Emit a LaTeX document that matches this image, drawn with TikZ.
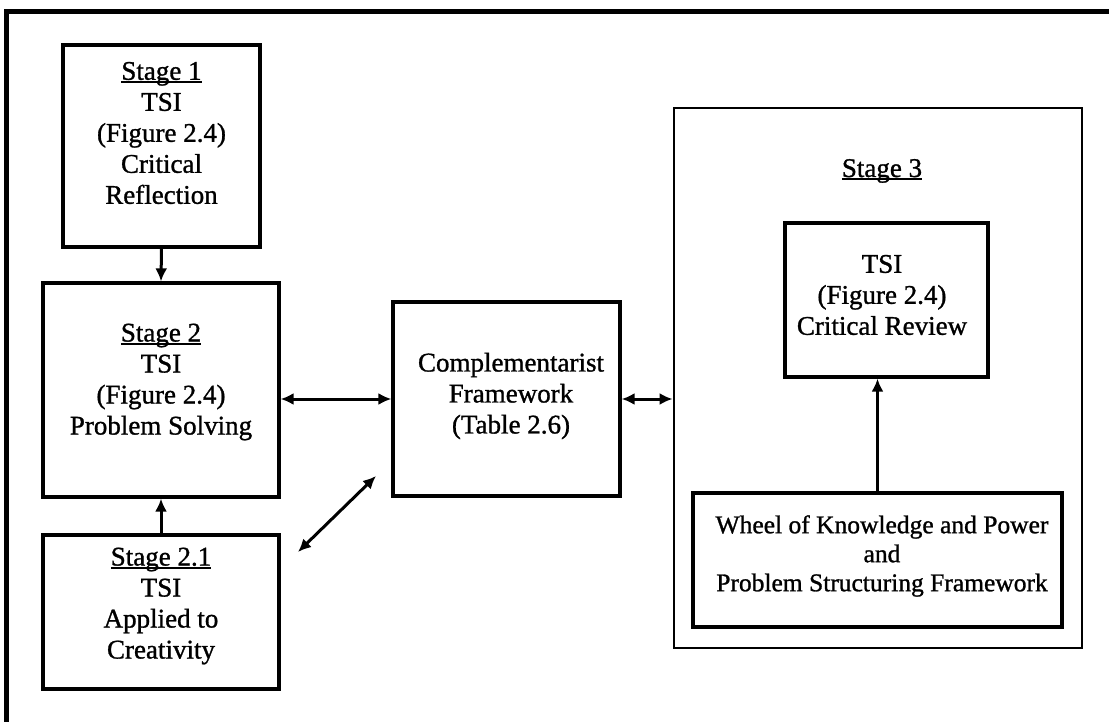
\documentclass[tikz,border=0pt]{standalone}
\usepackage{fontspec}
\setmainfont{Liberation Serif}[FakeBold=1.1]
\usetikzlibrary{arrows.meta}
% underlined stage heading, rule set close under the baseline
\newcommand\stagehead[1]{\setbox0\hbox{#1}\rlap{\rule[-3pt]{\wd0}{1.8pt}}\box0}
\begin{document}
\begin{tikzpicture}[x=1pt,y=-1pt,
  box/.style={draw,line width=3.2pt,inner sep=0pt},
  txt/.style={align=center,inner sep=0pt,font=\fontsize{27}{31}\selectfont},
  tip/.tip={Latex[length=13pt,width=12pt]},
  arr/.style={line width=3pt,-tip},
  both/.style={line width=3pt,tip-tip}]
\useasboundingbox (0,0) rectangle (1109,722);

% page frame (left and top rules)
\draw[line width=5pt] (6,722) -- (6,12) -- (1109,12);

% left column
\node[box,minimum width=197pt,minimum height=202pt] (s1) at (161.5,146) {};
\node[txt] (s1t) at (161.5,133) {\stagehead{Stage 1}\\TSI\\(Figure 2.4)\\Critical\\Reflection};

\node[box,minimum width=236pt,minimum height=214pt] (s2) at (161,390) {};
\node[txt] (s2t) at (161,382) {\stagehead{Stage 2}\\TSI\\(Figure 2.4)\\Problem Solving};

\node[box,minimum width=236pt,minimum height=154pt] (s21) at (161,612) {};
\node[txt] (s21t) at (161,606) {\stagehead{Stage 2.1}\\TSI\\Applied to\\Creativity};

% middle
\node[box,minimum width=227pt,minimum height=194pt] (comp) at (506.5,399) {};
\node[txt] (compt) at (511,396) {Complementarist\\Framework\\(Table 2.6)};

% stage 3 group
\node[box,line width=2.8pt,minimum width=408pt,minimum height=540pt] (st3) at (878,378) {};
\node[txt,anchor=base] (st3t) at (882,177) {\stagehead{Stage 3}};

\node[box,minimum width=203pt,minimum height=154pt] (tsi) at (886.5,300) {};
\node[txt] (tsit) at (882,295) {TSI\\(Figure 2.4)\\Critical Review};

\node[box,minimum width=369pt,minimum height=134pt] (wheel) at (877.5,560) {};
\node[txt,font=\fontsize{25.5}{29}\selectfont] (wheelt) at (882,556) {Wheel of Knowledge and Power\\and\\Problem Structuring Framework};

% connectors
\draw[arr] (s1.south) -- (s2.north);
\draw[arr] (s21.north) -- (s2.south);
\draw[both] (s2.east |- comp.west) -- (comp.west);
\draw[both] (comp.east) -- (comp.east -| st3.west);
\coordinate (dA) at (298,552);
\coordinate (dB) at (376,476);
\draw[both] (dA) -- (dB);
\draw[arr] (wheel.north) -- (wheel.north |- tsi.south);
\end{tikzpicture}
\end{document}
